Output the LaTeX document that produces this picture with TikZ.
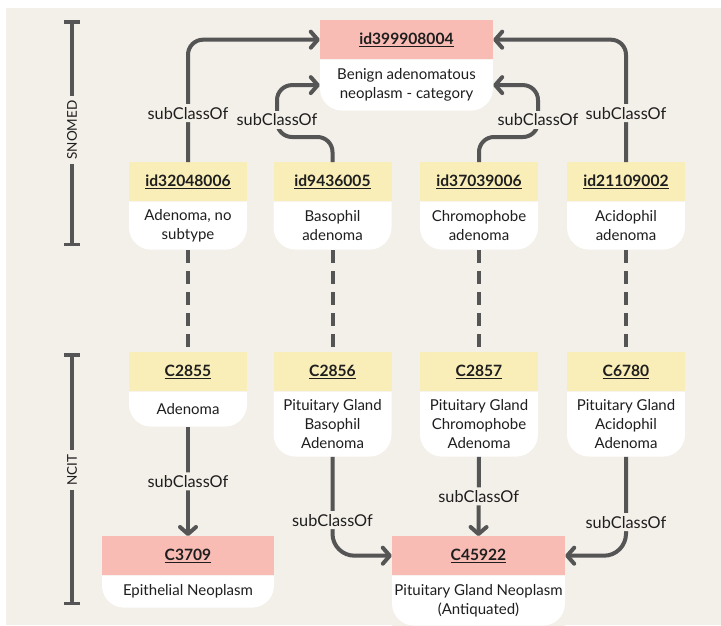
\documentclass[tikz,border=0pt]{standalone}
\usepackage{fontspec}
\setmainfont{Lato}
\usetikzlibrary{arrows.meta}
\definecolor{paper}{RGB}{243, 239, 233}
\definecolor{ncityellow}{RGB}{249, 237, 184}
\definecolor{rootpink}{RGB}{249, 188, 181}
\definecolor{linkgray}{RGB}{85, 85, 85}
\definecolor{inkgray}{RGB}{30, 30, 30}

\newcommand{\idfont}{\fontsize{15.6}{18}\selectfont\bfseries}
\newcommand{\namefont}{\fontsize{15}{19}\selectfont}
\newcommand{\relfont}{\fontsize{16.3}{19}\selectfont}

\tikzset{
    idhead/.style={anchor=north, minimum height=39pt, inner sep=0pt, text=inkgray, font=\idfont},
    namebody/.style={anchor=north, inner sep=0pt, align=center, text=inkgray, font=\namefont, fill=paper,
        path picture={\fill[white] (path picture bounding box.north west) [rounded corners=22pt]
            -- (path picture bounding box.south west) -- (path picture bounding box.south east)
            [sharp corners] -- (path picture bounding box.north east) -- cycle;}},
    rel/.style={draw=linkgray, line width=4pt, rounded corners=15pt,
        -{Straight Barb[length=7pt, width=16pt, round]}},
    relname/.style={fill=paper, text=inkgray, font=\relfont, inner sep=3pt},
    sameas/.style={draw=linkgray, line width=4pt, dash pattern=on 13pt off 8pt},
    sourcebar/.style={draw=linkgray, line width=3.5pt, {Bar[width=16pt]}-{Bar[width=16pt]}},
    sourcename/.style={fill=paper, text=inkgray, font=\fontsize{13.5}{15}\selectfont, inner sep=4pt, rotate=90}
}

\begin{document}
\begin{tikzpicture}[x=1pt, y=-1pt]
            % Frame
            \useasboundingbox (0,0) rectangle (721,625);
            \fill[white] (0,0) rectangle (721,625);
            \fill[paper] (6,8) rectangle (721,625);
            % Common parent
            \node[idhead, fill=rootpink, minimum width=173pt] (top) at (406.5,20) {\underline{id399908004}};
            \node[namebody, minimum width=173pt, minimum height=51pt] (topb) at (top.south) {Benign adenomatous\\neoplasm - category};
            % SNOMED row
            \node[idhead, fill=ncityellow, minimum width=118pt] (s1) at (188,162) {\underline{id32048006}};
            \node[namebody, minimum width=118pt, minimum height=48pt] (s1b) at (s1.south) {Adenoma, no\\subtype};
            \node[idhead, fill=ncityellow, minimum width=118pt] (s2) at (332.5,162) {\underline{id9436005}};
            \node[namebody, minimum width=118pt, minimum height=48pt] (s2b) at (s2.south) {Basophil\\adenoma};
            \node[idhead, fill=ncityellow, minimum width=118pt] (s3) at (479,162) {\underline{id37039006}};
            \node[namebody, minimum width=118pt, minimum height=48pt] (s3b) at (s3.south) {Chromophobe\\adenoma};
            \node[idhead, fill=ncityellow, minimum width=118pt] (s4) at (626,162) {\underline{id21109002}};
            \node[namebody, minimum width=118pt, minimum height=48pt] (s4b) at (s4.south) {Acidophil\\adenoma};
            % NCIT row
            \node[idhead, fill=ncityellow, minimum width=118pt] (n1) at (188,352) {\underline{C2855}};
            \node[namebody, minimum width=118pt, minimum height=35pt] (n1b) at (n1.south) {Adenoma};
            \node[idhead, fill=ncityellow, minimum width=118pt] (n2) at (332.5,352) {\underline{C2856}};
            \node[namebody, minimum width=118pt, minimum height=65pt] (n2b) at (n2.south) {Pituitary Gland\\Basophil\\Adenoma};
            \node[idhead, fill=ncityellow, minimum width=118pt] (n3) at (479,352) {\underline{C2857}};
            \node[namebody, minimum width=118pt, minimum height=65pt] (n3b) at (n3.south) {Pituitary Gland\\Chromophobe\\Adenoma};
            \node[idhead, fill=ncityellow, minimum width=118pt] (n4) at (626,352) {\underline{C6780}};
            \node[namebody, minimum width=118pt, minimum height=65pt] (n4b) at (n4.south) {Pituitary Gland\\Acidophil\\Adenoma};
            % NCIT parents
            \node[idhead, fill=rootpink, minimum width=172pt] (c1) at (188,536) {\underline{C3709}};
            \node[namebody, minimum width=172pt, minimum height=32pt] (c1b) at (c1.south) {Epithelial Neoplasm};
            \node[idhead, fill=rootpink, minimum width=173pt] (c2) at (478.5,536) {\underline{C45922}};
            \node[namebody, minimum width=173pt, minimum height=50pt] (c2b) at (c2.south) {Pituitary Gland Neoplasm\\(Antiquated)};
            % SNOMED subClassOf
            \draw[rel] (s1.north) |- (top.west) node[relname, pos=0.2] (r1) {subClassOf};
            \draw[rel] (s4.north) |- (top.east) node[relname, pos=0.2] (r4) {subClassOf};
            \draw[rel] (s2.north) |- ++(-55.5,-25) |- (topb.west);
            \node[relname] (r2) at (277,120) {subClassOf};
            \draw[rel] (s3.north) |- ++(59,-25) |- (topb.east);
            \node[relname] (r3) at (538,120) {subClassOf};
            % Same concept
            \draw[sameas] (s1b.south) -- (n1.north);
            \draw[sameas] (s2b.south) -- (n2.north);
            \draw[sameas] (s3b.south) -- (n3.north);
            \draw[sameas] (s4b.south) -- (n4.north);
            % NCIT subClassOf
            \draw[rel] (n1b.south) -- (c1.north) node[relname, midway] (r5) {subClassOf};
            \draw[rel, rounded corners=22pt] (n2b.south) |- (c2.west) node[relname, pos=0.32] (r6) {subClassOf};
            \draw[rel] (n3b.south) -- (c2.north) node[relname, midway] (r7) {subClassOf};
            \draw[rel, rounded corners=22pt] (n4b.south) |- (c2.east) node[relname, pos=0.33] (r8) {subClassOf};
            % Sources
            \coordinate (snomed-top) at (72,20);
            \coordinate (snomed-bot) at (72,246);
            \coordinate (ncit-top) at (72,353);
            \coordinate (ncit-bot) at (72,605);
            \draw[sourcebar] (snomed-top) -- (snomed-bot);
            \draw[sourcebar] (ncit-top) -- (ncit-bot);
            \node[sourcename] (snomed) at (72,130) {SNOMED};
            \node[sourcename] (ncit) at (72,470) {NCIT};
\end{tikzpicture}
\end{document}
